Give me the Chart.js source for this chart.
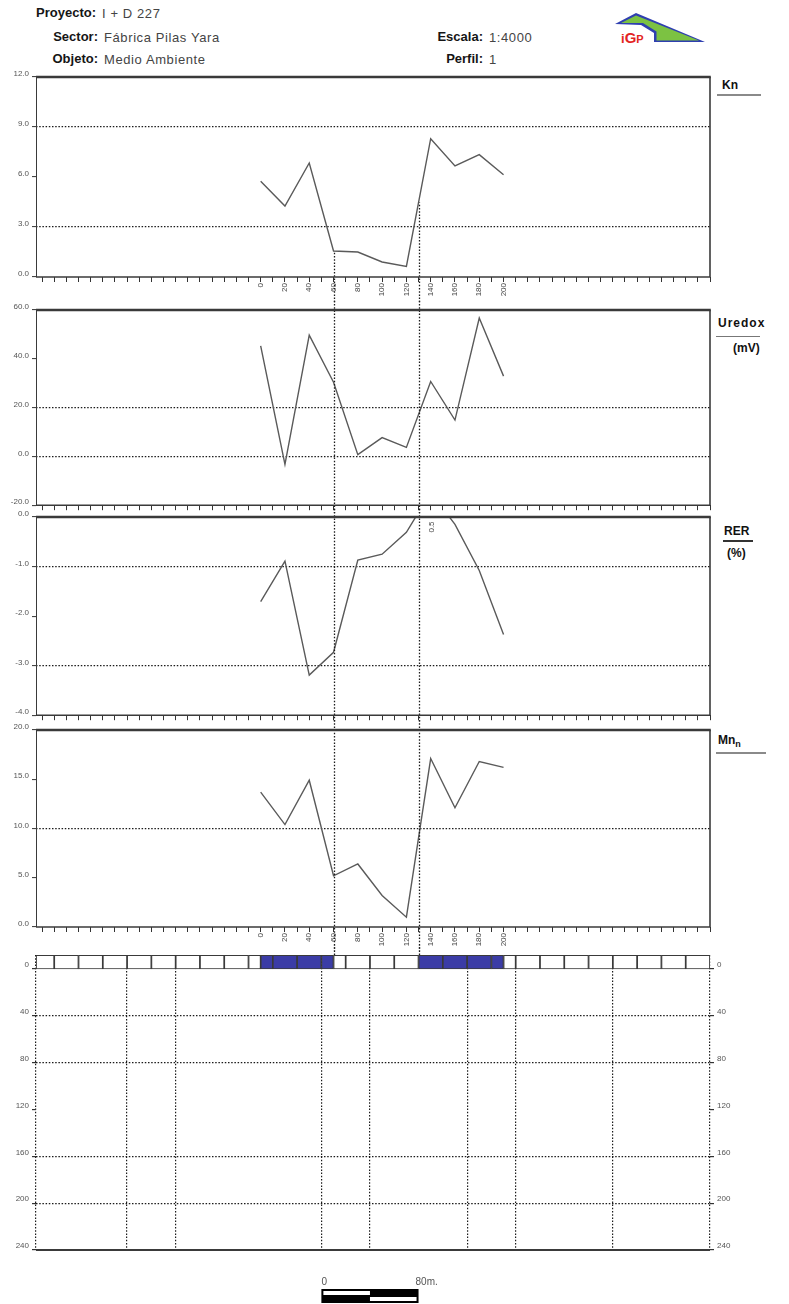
<!DOCTYPE html>
<html>
<head>
<meta charset="utf-8">
<script src="https://cdn.jsdelivr.net/npm/chart.js@4.4.0/dist/chart.umd.min.js"></script>
<style>
body { margin: 0; background: #fff; width: 789px; height: 1304px; position: relative; overflow: hidden;
       font-family: "Liberation Sans", Arial, sans-serif; }
canvas { position: absolute; left: 0; }
.lbl { position: absolute; font-weight: bold; font-size: 13px; color: #151515; text-align: right; width: 100px; }
.val { position: absolute; font-size: 13px; color: #444; letter-spacing: 0.6px; }
.side { position: absolute; font-weight: bold; font-size: 12px; color: #111; }
.bar { position: absolute; }
</style>
</head>
<body>

<!-- header -->
<div class="lbl" style="left:-4px; top:5px;">Proyecto:</div>
<div class="val" style="left:102px; top:6px;">I + D 227</div>
<div class="lbl" style="left:-2px; top:29px;">Sector:</div>
<div class="val" style="left:104px; top:30px;">Fábrica Pilas Yara</div>
<div class="lbl" style="left:-2px; top:51px;">Objeto:</div>
<div class="val" style="left:104px; top:52px;">Medio Ambiente</div>
<div class="lbl" style="left:383px; top:29px;">Escala:</div>
<div class="val" style="left:489px; top:30px;">1:4000</div>
<div class="lbl" style="left:383px; top:51px;">Perfil:</div>
<div class="val" style="left:489px; top:52px;">1</div>

<svg style="position:absolute;left:0;top:0" width="789" height="60">
  <polygon points="615,24 636,13 705,42 654,42 654,33 641,25" fill="#2f3fb0"/>
  <polygon points="621,23 636,15.5 699,40.5 656.5,40.5 656.5,31.5 643,23" fill="#7cc242"/>
  <text x="621" y="43" font-family="Liberation Sans, Arial" font-weight="bold" font-size="13" fill="#e3241f">i<tspan font-size="15">G</tspan><tspan font-size="11">P</tspan></text>
</svg>

<!-- panel names -->
<div class="side" style="left:722px; top:78px;">Kn</div>
<div class="bar" style="left:717px; top:94px; width:44px; height:2px; background:#8a8a8a;"></div>
<div class="side" style="left:718px; top:316px; letter-spacing:1px;">Uredox</div>
<div class="bar" style="left:716px; top:336px; width:44px; height:1px; background:#777;"></div>
<div class="side" style="left:733px; top:341px;">(mV)</div>
<div class="side" style="left:724px; top:524px;">RER</div>
<div class="bar" style="left:723px; top:540px; width:30px; height:2px; background:#333;"></div>
<div class="side" style="left:727px; top:546px;">(%)</div>
<div class="side" style="left:718px; top:733px;">Mn<sub style="font-size:9px">n</sub></div>
<div class="bar" style="left:716px; top:752px; width:50px; height:2px; background:#8a8a8a;"></div>

<canvas id="kn" width="789" height="236" style="top:67px"></canvas>
<canvas id="uredox" width="789" height="213" style="top:300px"></canvas>
<canvas id="rer" width="789" height="216" style="top:507px"></canvas>
<canvas id="mn" width="789" height="231" style="top:720px"></canvas>
<canvas id="depth" width="789" height="359" style="top:945px"></canvas>

<script>
// stations along the profile (m)
const stations = [0, 20, 40, 60, 80, 100, 120, 140, 160, 180, 200];

const knValues     = [5.74, 4.26, 6.84, 1.56, 1.5, 0.9, 0.64, 8.3, 6.66, 7.34, 6.14];
const uredoxValues = [45.3, -3.3, 49.7, 30.4, 0.7, 7.7, 3.7, 30.7, 14.9, 56.7, 32.9];
const rerValues    = [-1.71, -0.89, -3.19, -2.73, -0.87, -0.75, -0.31, 0.5, -0.15, -1.08, -2.37];
const mnValues     = [13.7, 10.4, 14.9, 5.2, 6.4, 3.2, 1.0, 17.1, 12.1, 16.8, 16.2];

const knTicks     = [0, 3, 6, 9, 12];
const uredoxTicks = [-20, 0, 20, 40, 60];
const rerTicks    = [-4, -3, -2, -1, 0];
const mnTicks     = [0, 5, 10, 15, 20];
const depthTicks  = [0, 40, 80, 120, 160, 200, 240];

// dotted reference lines
const knGrid     = [3, 9];
const uredoxGrid = [0, 20];
const rerGrid    = [-3, -1];
const mnGrid     = [10];
const depthGrid  = [40, 80, 160, 200];

// anomaly boundaries (m) and electrode lines of the section
const dropLines  = [60, 130];
const electrodes = [-110, -70, 50, 90, 170, 210, 290];

// strip of cells above the section
const stripEdges = [-185, -170, -150, -130, -110, -90, -70, -50, -30, -10, 0, 10, 30, 50, 60, 70, 90,
                    110, 130, 150, 170, 190, 200, 210, 230, 250, 270, 290, 310, 330, 350, 370];
const anomalies  = [[0, 60], [130, 200]];

const X_MIN = -185, X_MAX = 370;
const SCALE_BAR_START = 50, SCALE_BAR_LEN = 80;

const xTickValues = [];
for (let v = -180; v <= 370; v += 10) xTickValues.push(v);

const DOT = [1.5, 1.7];
const tickFont = { family: '"Liberation Sans", Arial, sans-serif', size: 8 };

function valueAt(values, m) {
    for (let i = 0; i < stations.length - 1; i++) {
        if (m >= stations[i] && m <= stations[i + 1]) {
            const t = (m - stations[i]) / (stations[i + 1] - stations[i]);
            return values[i] + t * (values[i + 1] - values[i]);
        }
    }
    return null;
}

// frame around each plot
const framePlugin = {
    id: 'frame',
    afterDraw(chart, args, o) {
        const { ctx, chartArea: a } = chart;
        ctx.save();
        ctx.strokeStyle = '#3a3a3a';
        if (o.bottomOnly) {
            ctx.lineWidth = 2;
            ctx.beginPath(); ctx.moveTo(a.left, a.bottom); ctx.lineTo(a.right, a.bottom); ctx.stroke();
            ctx.restore();
            return;
        }
        ctx.lineWidth = 1;
        ctx.beginPath(); ctx.moveTo(a.left + 0.5, a.top); ctx.lineTo(a.left + 0.5, a.bottom); ctx.stroke();
        ctx.lineWidth = 1.6;
        ctx.beginPath(); ctx.moveTo(a.left, a.bottom); ctx.lineTo(a.right, a.bottom); ctx.stroke();
        ctx.beginPath(); ctx.moveTo(a.right, a.top); ctx.lineTo(a.right, a.bottom); ctx.stroke();
        ctx.lineWidth = 2.6;
        ctx.beginPath(); ctx.moveTo(a.left, a.top); ctx.lineTo(a.right + 0.8, a.top); ctx.stroke();
        ctx.restore();
    }
};

// vertical dotted lines at the anomaly boundaries
const dropPlugin = {
    id: 'drops',
    afterDatasetsDraw(chart, args, o) {
        if (!o.mode) return;
        const { ctx, chartArea: a } = chart;
        const xs = chart.scales.x, ys = chart.scales.y;
        const period = DOT[0] + DOT[1];
        ctx.save();
        ctx.strokeStyle = '#1b1b1b';
        ctx.lineWidth = 1.3;
        ctx.setLineDash(DOT);
        dropLines.forEach(m => {
            const x = Math.round(xs.getPixelForValue(m)) + 0.5;
            let y0 = 0, y1 = chart.height;
            if (o.mode === 'curve') y0 = ys.getPixelForValue(valueAt(o.values, m));
            if (o.mode === 'strip') y1 = a.top;
            ctx.lineDashOffset = (o.pageTop + y0) % period;
            ctx.beginPath(); ctx.moveTo(x, y0); ctx.lineTo(x, y1); ctx.stroke();
        });
        ctx.restore();
    }
};

// value of points clipped above the axis
const overPlugin = {
    id: 'over',
    afterDatasetsDraw(chart, args, o) {
        if (!o.on) return;
        const { ctx, chartArea: a } = chart;
        const xs = chart.scales.x, ys = chart.scales.y;
        chart.data.datasets[0].data.forEach(p => {
            if (p.y <= ys.max) return;
            ctx.save();
            ctx.translate(xs.getPixelForValue(p.x) + 1, a.top + 10);
            ctx.rotate(-Math.PI / 2);
            ctx.font = '8px "Liberation Sans", Arial';
            ctx.fillStyle = '#444';
            ctx.textAlign = 'center';
            ctx.textBaseline = 'middle';
            ctx.fillText(p.y.toFixed(1), 0, 0);
            ctx.restore();
        });
    }
};

// scale bar under the section
const scaleBarPlugin = {
    id: 'scalebar',
    afterDraw(chart, args, o) {
        if (!o.on) return;
        const { ctx } = chart;
        const xs = chart.scales.x;
        const x0 = xs.getPixelForValue(SCALE_BAR_START);
        const x1 = xs.getPixelForValue(SCALE_BAR_START + SCALE_BAR_LEN);
        const xm = (x0 + x1) / 2;
        const y = 1289 - o.pageTop, h = 7;
        ctx.save();
        ctx.fillStyle = '#000';
        ctx.fillRect(x0, y, x1 - x0, 2 * h);
        ctx.fillStyle = '#fff';
        ctx.fillRect(x0 + 2, y + 2, xm - x0 - 2, h - 3);
        ctx.fillRect(xm, y + h + 1, x1 - xm - 2, h - 3);
        ctx.font = '10px "Liberation Sans", Arial';
        ctx.fillStyle = '#555';
        ctx.textBaseline = 'alphabetic';
        ctx.fillText('0', x0, y - 4);
        ctx.fillText(SCALE_BAR_LEN + 'm.', x1 - 3, y - 4);
        ctx.restore();
    }
};

function xAxis(height, showLabels) {
    return {
        type: 'linear', min: X_MIN, max: X_MAX,
        afterBuildTicks: s => { s.ticks = xTickValues.map(v => ({ value: v })); },
        afterFit: s => { s.height = height; },
        ticks: {
            autoSkip: false, maxRotation: 90, minRotation: 90, padding: 1,
            font: tickFont, color: '#444',
            callback: v => (showLabels && stations.includes(v)) ? String(v) : ''
        },
        grid: { drawOnChartArea: false, drawTicks: true, tickLength: 5, tickColor: '#333', tickWidth: 1 },
        border: { display: false }
    };
}

function yAxis(min, max, ticks, gridAt) {
    return {
        type: 'linear', min: min, max: max,
        afterBuildTicks: s => { s.ticks = ticks.map(v => ({ value: v })); },
        afterFit: s => { s.width = 36; },
        ticks: { font: tickFont, color: '#555', padding: 3, labelOffset: -3, callback: v => v.toFixed(1) },
        grid: {
            color: c => (c.tick && gridAt.includes(c.tick.value)) ? '#1b1b1b' : 'rgba(0,0,0,0)',
            lineWidth: 1.2, drawTicks: true, tickLength: 4, tickColor: '#333', tickWidth: 1
        },
        border: { display: false, dash: DOT }
    };
}

function panel(id, pageTop, values, min, max, ticks, gridAt, xHeight, showLabels, dropMode, over) {
    return new Chart(document.getElementById(id), {
        type: 'line',
        data: {
            datasets: [{
                data: stations.map((s, i) => ({ x: s, y: values[i] })),
                borderColor: '#5a5a5a', borderWidth: 1.4, pointRadius: 0, tension: 0, fill: false
            }]
        },
        options: {
            responsive: false, animation: false, events: [],
            layout: { padding: { top: 10, right: 79, left: 0, bottom: 0 } },
            plugins: {
                legend: { display: false }, tooltip: { enabled: false },
                frame: {}, drops: { mode: dropMode, values: values, pageTop: pageTop },
                over: { on: over }, scalebar: {}
            },
            scales: { x: xAxis(xHeight, showLabels), y: yAxis(min, max, ticks, gridAt) }
        },
        plugins: [framePlugin, dropPlugin, overPlugin]
    });
}

panel('kn', 67, knValues, 0, 12, knTicks, knGrid, 26, true, 'curve', false);
panel('uredox', 300, uredoxValues, -20, 60, uredoxTicks, uredoxGrid, 6, false, 'full', false);
panel('rer', 507, rerValues, -4, 0, rerTicks, rerGrid, 6, false, 'full', true);
panel('mn', 720, mnValues, 0, 20, mnTicks, mnGrid, 24, true, 'full', false);

// depth section with the cell strip
const cells = [];
for (let i = 0; i < stripEdges.length - 1; i++) cells.push([stripEdges[i], stripEdges[i + 1]]);
const inAnomaly = c => anomalies.some(r => c[0] >= r[0] && c[1] <= r[1]);

const depthY = (position, showGrid) => ({
    type: 'linear', reverse: true, min: -12, max: 240, position: position, offset: false,
    afterBuildTicks: s => { s.ticks = depthTicks.map(v => ({ value: v })); },
    afterFit: s => { s.width = position === 'left' ? 36 : 79; },
    ticks: { font: tickFont, color: '#555', padding: 3, labelOffset: -4 },
    grid: {
        offset: false,
        drawOnChartArea: showGrid,
        color: c => (c.tick && depthGrid.includes(c.tick.value)) ? '#1b1b1b' : 'rgba(0,0,0,0)',
        lineWidth: 1.2, drawTicks: true, tickLength: 4, tickColor: '#333'
    },
    border: { display: false, dash: DOT }
});

new Chart(document.getElementById('depth'), {
    type: 'bar',
    data: {
        datasets: [{
            data: cells.map(c => ({ x: c, y: -6 })),
            backgroundColor: cells.map(c => inAnomaly(c) ? '#3b3ca6' : '#ffffff'),
            borderColor: '#3a3a3a', borderWidth: 1.2, borderSkipped: false,
            barThickness: 14, grouped: false, xAxisID: 'x', yAxisID: 'y'
        }]
    },
    options: {
        indexAxis: 'y',
        responsive: false, animation: false, events: [],
        layout: { padding: { top: 10, right: 0, left: 0, bottom: 54 } },
        plugins: {
            legend: { display: false }, tooltip: { enabled: false },
            frame: { bottomOnly: true }, drops: { mode: 'strip', pageTop: 945 },
            over: {}, scalebar: { on: true, pageTop: 945 }
        },
        scales: {
            x: {
                type: 'linear', min: X_MIN, max: X_MAX, offset: false,
                afterBuildTicks: s => { s.ticks = [X_MIN].concat(electrodes, [X_MAX]).map(v => ({ value: v })); },
                afterFit: s => { s.height = 0; },
                ticks: { display: false },
                grid: { offset: false, color: '#1b1b1b', lineWidth: 1.2, drawTicks: false },
                border: { display: false, dash: DOT }
            },
            y: depthY('left', true),
            y2: depthY('right', false)
        }
    },
    plugins: [framePlugin, dropPlugin, scaleBarPlugin]
});
</script>
</body>
</html>
